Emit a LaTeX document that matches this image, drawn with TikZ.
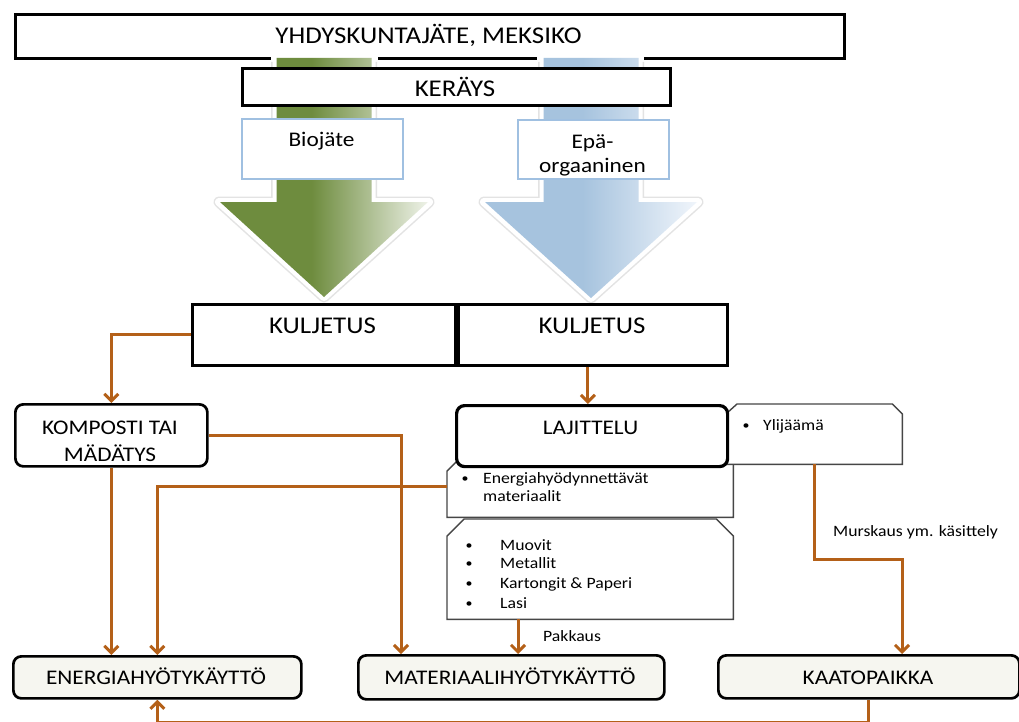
\documentclass[tikz,border=0pt]{standalone}
\usepackage{fontspec}
\setmainfont{Carlito}[FakeStretch=1.12]
\usetikzlibrary{arrows.meta,calc}
\definecolor{brn}{RGB}{180,96,24}
\definecolor{gA}{RGB}{110,140,62}
\definecolor{gB}{RGB}{238,242,232}
\definecolor{bA}{RGB}{166,195,222}
\definecolor{bB}{RGB}{240,245,251}
\definecolor{cream}{RGB}{246,246,240}
\definecolor{lblue}{RGB}{160,192,225}
\definecolor{snipgray}{RGB}{70,70,70}
\pgfdeclarehorizontalshading{greenfade}{100bp}{color(0bp)=(gA); color(47bp)=(gA); color(75bp)=(gB); color(100bp)=(gB)}
\pgfdeclarehorizontalshading{bluefade}{100bp}{color(0bp)=(bA); color(48bp)=(bA); color(75bp)=(bB); color(100bp)=(bB)}
\newcommand\fsBig{\fontsize{24}{29}\selectfont}
\newcommand\fsMid{\fontsize{20.8}{25}\selectfont}
\newcommand\fsSmall{\fontsize{15.8}{19}\selectfont}
\newcommand\fsBul{\fontsize{12.5}{15}\selectfont}
\begin{document}
\begin{tikzpicture}[x=1pt,y=-1pt,
  bigbox/.style={draw=black, line width=3pt, fill=white, inner sep=0pt, anchor=north west},
  rbox/.style={draw=black, line width=2.7pt, rounded corners=8pt, fill=cream, inner sep=0pt, anchor=north west},
  lbbox/.style={draw=lblue, line width=2pt, fill=white, inner sep=0pt, anchor=north west},
  snip/.style={inner sep=0pt, anchor=north west},
  snipline/.style={draw=snipgray, line width=1.4pt, fill=white},
  txt/.style={inner sep=0pt, anchor=base},
  ltxt/.style={inner sep=0pt, anchor=base west},
  bul/.style={inner sep=0pt, anchor=base, font=\fsBul},
  conn/.style={draw=brn, line width=3pt, -{Straight Barb[length=7pt,width=14pt]}},
  glowg/.style={draw=gray!22, line width=11pt, line join=round},
  gloww/.style={draw=white, line width=8pt, line join=round, line cap=rect}]
\useasboundingbox (0,0) rectangle (1019,722);
\fill[white] (0,0) rectangle (1019,722);

% title
\node[bigbox, minimum width=829pt, minimum height=44pt] (title) at (14,13) {};
\node[txt, font=\fsBig] (title-t) at (428.5,43.5) {YHDYSKUNTAJÄTE, MEKSIKO};
\fill[white] (271,52) rectangle (378,60);
\fill[white] (537,52) rectangle (644,60);

% big arrows
\draw[glowg] (276.5,62) -- (276.5,202) -- (219,202) -- (324,297) -- (429,202) -- (371.5,202) -- (371.5,62);
\draw[gloww] (276.5,58) -- (276.5,202) -- (219,202) -- (324,297) -- (429,202) -- (371.5,202) -- (371.5,58);
\shade[shading=greenfade] (276.5,58) -- (371.5,58) -- (371.5,202) -- (428,202) -- (324,297) -- (220,202) -- (276.5,202) -- cycle;
\draw[glowg] (543.5,62) -- (543.5,202) -- (484,202) -- (591,298) -- (698,202) -- (638.5,202) -- (638.5,62);
\draw[gloww] (543.5,58) -- (543.5,202) -- (484,202) -- (591,298) -- (698,202) -- (638.5,202) -- (638.5,58);
\shade[shading=bluefade] (543.5,58) -- (638.5,58) -- (638.5,202) -- (697,202) -- (591,298) -- (485,202) -- (543.5,202) -- cycle;

% keräys
\node[bigbox, line width=2.8pt, minimum width=428pt, minimum height=37pt] (keray) at (241,67) {};
\node[txt, font=\fsBig] (keray-t) at (455,96.5) {KERÄYS};

% bio / epä
\node[lbbox, minimum width=161pt, minimum height=60pt] (bio) at (241,118.5) {};
\node[txt, font=\fsMid] (bio-t) at (321.5,147) {Biojäte};
\node[lbbox, minimum width=151pt, minimum height=59pt] (epa) at (517,119) {};
\node[txt, font=\fsMid] (epa-t1) at (592.5,148.5) {Epä-};
\node[txt, font=\fsMid] (epa-t2) at (592.5,172.5) {orgaaninen};

% kuljetus
\node[bigbox, line width=2.8pt, minimum width=263pt, minimum height=61pt] (kuljL) at (191,303) {};
\node[txt, font=\fsBig] (kuljL-t) at (322.5,333) {KULJETUS};
\node[bigbox, line width=2.8pt, minimum width=269pt, minimum height=61pt] (kuljR) at (457,303) {};
\node[txt, font=\fsBig] (kuljR-t) at (592,333) {KULJETUS};

% kompostointi
\node[rbox, fill=white, minimum width=192pt, minimum height=62pt] (kompo) at (14,403) {};
\node[txt, font=\fsMid] (kompo-t1) at (110,434) {KOMPOSTI TAI};
\node[txt, font=\fsMid] (kompo-t2) at (110,461) {MÄDÄTYS};

% snipped boxes
\node[snip, minimum width=286pt, minimum height=55pt] (ener) at (447,462) {};
\draw[snipline] ($(ener.north west)+(0,9)$) -- ($(ener.north west)+(9,0)$) -- (ener.north east) -- (ener.south east) -- (ener.south west) -- cycle;
\node[snip, minimum width=286pt, minimum height=100pt] (muovit) at (447,519) {};
\draw[snipline] ($(muovit.north west)+(0,17)$) -- ($(muovit.north west)+(17,0)$) -- ($(muovit.north east)+(-17,0)$) -- ($(muovit.north east)+(0,17)$) -- (muovit.south east) -- (muovit.south west) -- cycle;
\node[snip, minimum width=175pt, minimum height=60pt] (ylij) at (727,404) {};
\draw[snipline] ($(ylij.north west)+(0,9)$) -- ($(ylij.north west)+(10,0)$) -- ($(ylij.north east)+(-10,0)$) -- ($(ylij.north east)+(0,10)$) -- (ylij.south east) -- (ylij.south west) -- cycle;

% lajittelu
\node[rbox, fill=white, line width=3.2pt, minimum width=271pt, minimum height=61pt] (lajit) at (455,404) {};
\node[txt, font=\fsMid] (lajit-t) at (590.5,434) {LAJITTELU};

% bullet texts
\node[bul] (ylij-b) at (746,429.5) {•};
\node[ltxt, font=\fsSmall] (ylij-t) at (763,430.5) {Ylijäämä};
\node[bul] (ener-b) at (465,482.3) {•};
\node[ltxt, font=\fsSmall] (ener-t1) at (483,483.3) {Energiahyödynnettävät};
\node[ltxt, font=\fsSmall] (ener-t2) at (483,501.7) {materiaalit};
\node[bul] (mu-b1) at (469,549) {•};
\node[ltxt, font=\fsSmall] (mu-t1) at (500,550) {Muovit};
\node[bul] (mu-b2) at (469,567.5) {•};
\node[ltxt, font=\fsSmall] (mu-t2) at (500,568.5) {Metallit};
\node[bul] (mu-b3) at (469,587) {•};
\node[ltxt, font=\fsSmall] (mu-t3) at (500,588) {Kartongit \& Paperi};
\node[bul] (mu-b4) at (469,607) {•};
\node[ltxt, font=\fsSmall] (mu-t4) at (500,608) {Lasi};

% bottom boxes
\node[rbox, minimum width=288pt, minimum height=42pt] (energia) at (12,655) {};
\node[txt, font=\fsMid] (energia-t) at (156,684.5) {ENERGIAHYÖTYKÄYTTÖ};
\node[rbox, minimum width=306pt, minimum height=44pt] (materi) at (357,654) {};
\node[txt, font=\fsMid] (materi-t) at (510,684) {MATERIAALIHYÖTYKÄYTTÖ};
\node[rbox, minimum width=301pt, minimum height=43pt] (kaato) at (717,654) {};
\node[txt, font=\fsMid] (kaato-t) at (868,684) {KAATOPAIKKA};

% labels
\node[ltxt, font=\fsSmall] (murs) at (833,536.7) {Murskaus ym. käsittely};
\node[ltxt, font=\fsSmall] (pakk) at (543,641.7) {Pakkaus};

% connectors
\draw[conn] (kuljL.west) -| (kompo.north);
\draw[conn] ([xshift=-5pt]kuljR.south) -- ([xshift=-5pt]kuljR.south |- lajit.north);
\draw[conn] (kompo.south) -- (kompo.south |- energia.north);
\draw[conn] (kompo.east) -| ($(materi.north west)+(44,0)$);
\draw[conn] ([yshift=3.5pt]ener.west) -| (energia.north);
\coordinate (pk) at ($(muovit.south west)+(71,0)$);
\draw[conn] (pk) -- (pk |- materi.north);
\coordinate (bend) at (902,559);
\draw[conn] (ylij.south) |- (bend) -- (bend |- kaato.north);
\coordinate (bot) at (868,722.6);
\draw[conn] (kaato.south) -- (kaato.south |- bot) -| (energia.south);
\end{tikzpicture}
\end{document}
